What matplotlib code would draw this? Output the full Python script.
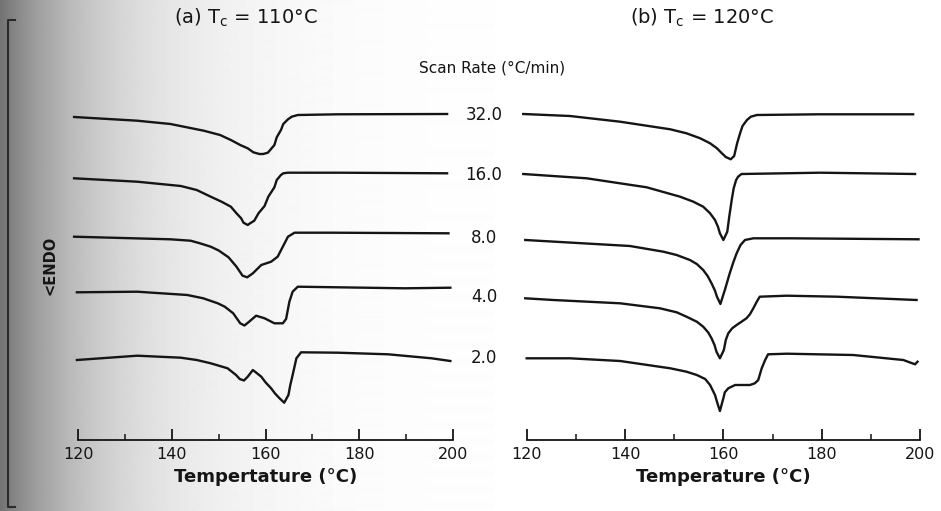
import numpy as np
import matplotlib
matplotlib.use("Agg")
import matplotlib.pyplot as plt
from matplotlib.lines import Line2D
from matplotlib.ticker import MultipleLocator

# DSC melting traces
# temperature in degC, heat flow in arbitrary units (endo is down)
rates = ["32.0", "16.0", "8.0", "4.0", "2.0"]

# (a) Tc = 110 C
a32_T = [119.1, 132.6, 139.7, 146.8, 150.3, 152.6, 154.6, 156.2, 157.4, 158.7, 159.5, 160.5, 161.0,
         161.9, 162.4, 163.3, 163.8, 164.8, 165.6, 166.9, 175.5, 198.8]
a32_q = [323, 319.3, 316, 309.3, 305, 300, 295, 291.7, 287.7, 286, 286, 287.3, 290,
         295, 302.7, 310, 316, 320.7, 323.3, 325, 325.7, 326]

a16_T = [119.1, 132.6, 141.9, 145.3, 148.3, 150.6, 152.6, 153.8, 154.8, 155.3, 156.2, 156.7, 157.6,
         158.5, 159.8, 160.6, 161.9, 162.4, 163.3, 163.8, 164.8, 175.5, 198.8]
a16_q = [261.7, 258.3, 254, 250, 243.3, 238.3, 233.3, 226.7, 221.7, 217.3, 215, 216.7, 219.3,
         226.7, 234, 243.3, 252.7, 260, 265, 266.7, 267.3, 267.3, 266.7]

a8_T = [119.1, 139.7, 144.0, 146.0, 148.3, 150.0, 152.1, 153.8, 155.1, 156.1, 157.3, 159.1, 161.2,
        162.6, 163.7, 164.8, 166.2, 174.1, 199.1]
a8_q = [203.3, 200.7, 199.3, 196.7, 193.3, 189.5, 182.7, 173.3, 164.3, 162.7, 166.7, 175, 178.3,
        183.3, 193.3, 203.3, 207.3, 207.3, 206.7]

a4_T = [119.7, 132.6, 143.3, 146.7, 149.8, 151.3, 153.1, 154.6, 155.5, 156.5, 158.0, 159.8, 161.9,
        163.7, 164.4, 165.1, 165.8, 166.9, 175.5, 189.8, 199.5]
a4_q = [147.7, 148.3, 145, 141.7, 136.7, 133.3, 126.7, 116.7, 114.5, 118.3, 124.3, 121.7, 116.7,
        116.7, 121, 138.3, 148.3, 153.3, 152.7, 151.7, 152.3]

a2_T = [119.7, 132.6, 141.9, 145.3, 148.3, 151.9, 153.7, 154.5, 155.4, 156.2, 157.3, 159.1, 160.0,
        161.2, 162.0, 163.0, 164.0, 164.9, 165.3, 165.8, 166.6, 167.6, 175.5, 186.2, 195.5, 199.5]
a2_q = [80, 84.3, 82.3, 80, 76.7, 71.7, 65, 61, 59.5, 63.3, 70, 63.3, 57.7,
        51.7, 46.7, 41.7, 37.3, 45, 55, 65, 81.7, 87.7, 87.3, 85.7, 81.7, 79]

# (b) Tc = 120 C
b32_T = [119.3, 128.8, 139.0, 149.2, 152.5, 155.3, 157.3, 158.7, 159.7, 160.5, 161.5, 162.2, 162.8,
         163.4, 163.9, 164.8, 165.6, 166.8, 179.3, 198.6]
b32_q = [326, 324, 318.3, 310.7, 306.7, 301.7, 296.7, 291.7, 286.7, 283, 280.7, 284, 296.7,
         306.7, 314, 320, 323.3, 325, 325.7, 325.7]

b16_T = [119.3, 132.2, 144.4, 151.2, 153.9, 155.9, 157.3, 158.3, 158.9, 159.3, 160.0, 160.8, 161.2,
         161.7, 162.1, 162.6, 163.0, 163.7, 179.7, 199.0]
b16_q = [266, 261.7, 252.7, 243.3, 238.3, 233.3, 226.7, 220, 213.3, 206.7, 200, 208.3, 223.3,
         240, 251.7, 260, 263.3, 266, 267.3, 266]

b8_T = [119.7, 141.0, 147.8, 150.5, 153.2, 154.6, 155.9, 156.8, 157.6, 158.3, 158.7, 159.4, 160.3,
        160.8, 161.3, 162.0, 162.7, 163.5, 164.4, 166.1, 173.6, 199.7]
b8_q = [200, 194, 188.3, 185, 180, 176, 170, 164, 156.7, 149.3, 143.3, 136, 150,
        158.3, 166.7, 177.3, 186.7, 195, 200, 201.7, 201.7, 200.7]

b4_T = [119.7, 125.4, 139.0, 147.1, 150.5, 152.5, 154.6, 155.9, 156.9, 157.6, 158.2, 158.6, 159.3,
        160.1, 160.5, 161.0, 161.8, 162.7, 163.7, 164.7, 165.4, 166.1, 166.8, 167.4, 172.9, 183.1, 199.3]
b4_q = [141.7, 140, 136.7, 131.7, 127.7, 123.3, 118.3, 113.3, 107.7, 101.7, 95, 88.3, 81.7,
        90, 100, 106.7, 111.7, 115, 118.3, 121.7, 125.7, 131.7, 138.3, 143.3, 144.3, 143.3, 140]

b2_T = [120.0, 128.8, 139.0, 149.2, 152.5, 154.6, 156.3, 157.3, 158.3, 158.8, 159.3, 160.0, 160.3,
        161.0, 162.4, 165.4, 166.4, 167.1, 167.8, 168.5, 169.1, 172.9, 186.4, 196.6, 199.0, 199.5]
b2_q = [81.7, 81.7, 79, 71.7, 68.3, 65, 61, 55, 45, 36.7, 29, 41.7, 47.7,
        51.7, 55, 55, 56.7, 60, 71.7, 80, 85.7, 86.3, 85, 80, 75.7, 78.3]

curves_a = [(a32_T, a32_q), (a16_T, a16_q), (a8_T, a8_q), (a4_T, a4_q), (a2_T, a2_q)]
curves_b = [(b32_T, b32_q), (b16_T, b16_q), (b8_T, b8_q), (b4_T, b4_q), (b2_T, b2_q)]

W, H = 941, 511
fig = plt.figure(figsize=(W / 100, H / 100), dpi=100)
fig.patch.set_facecolor("white")

# scanned page shading on the left
bg = fig.add_axes([0, 0, 1, 1], zorder=-5)
xx = np.arange(W)
shade = 1 - 0.55 * np.exp(-xx / 100.0)
bg.imshow(np.tile(shade, (H, 1)), cmap="gray", vmin=0, vmax=1, aspect="auto",
          interpolation="bilinear", extent=[0, 1, 0, 1])
bg.set_xlim(0, 1)
bg.set_ylim(0, 1)
bg.axis("off")


def px(x, y):
    return x / W, 1 - y / H


ink = "#151515"
ax_a = fig.add_axes([78.3 / W, 1 - 440 / H, (452.7 - 78.3) / W, 340 / H])
ax_b = fig.add_axes([526.7 / W, 1 - 440 / H, (920 - 526.7) / W, 340 / H])

for ax, curves, xlab in [(ax_a, curves_a, "Tempertature (°C)"),
                         (ax_b, curves_b, "Temperature (°C)")]:
    ax.set_facecolor("none")
    for T, q in curves:
        ax.plot(T, q, color=ink, lw=1.7, solid_joinstyle="round", clip_on=False)
    ax.set_xlim(120, 200)
    ax.set_ylim(0, 340)
    for s in ["top", "left", "right"]:
        ax.spines[s].set_visible(False)
    ax.spines["bottom"].set_linewidth(1.3)
    ax.spines["bottom"].set_color(ink)
    ax.set_yticks([])
    ax.xaxis.set_major_locator(MultipleLocator(20))
    ax.xaxis.set_minor_locator(MultipleLocator(10))
    ax.tick_params(axis="x", which="major", direction="in", length=8, width=1.3,
                   pad=5, labelsize=11.5, colors=ink)
    ax.tick_params(axis="x", which="minor", direction="in", length=4, width=1.1,
                   colors=ink)
    ax.set_xlabel(xlab, fontsize=13, fontweight="bold", labelpad=4, color=ink)

# panel titles and scan-rate labels
fig.text(*px(246, 18), "(a) T$_\\mathregular{c}$ = 110°C", ha="center", va="center",
         fontsize=14, color=ink)
fig.text(*px(702, 18), "(b) T$_\\mathregular{c}$ = 120°C", ha="center", va="center",
         fontsize=14, color=ink)
fig.text(*px(492, 68), "Scan Rate (°C/min)", ha="center", va="center",
         fontsize=11, color=ink)

label_y = [115, 175, 238, 297, 358]
for r, y in zip(rates, label_y):
    fig.text(*px(484, y), r, ha="center", va="center", fontsize=12, color=ink)

fig.text(*px(50, 265), "<ENDO", rotation=90, ha="center", va="center",
         fontsize=10.5, fontweight="bold", color=ink)

# page frame bracket on the left edge
fig.add_artist(Line2D([15 / W, 8 / W, 8 / W, 15 / W],
                      [1 - 20 / H, 1 - 20 / H, 1 - 507 / H, 1 - 507 / H],
                      color="#2a2a2a", lw=1.5))

fig.savefig("out.png", dpi=100)
